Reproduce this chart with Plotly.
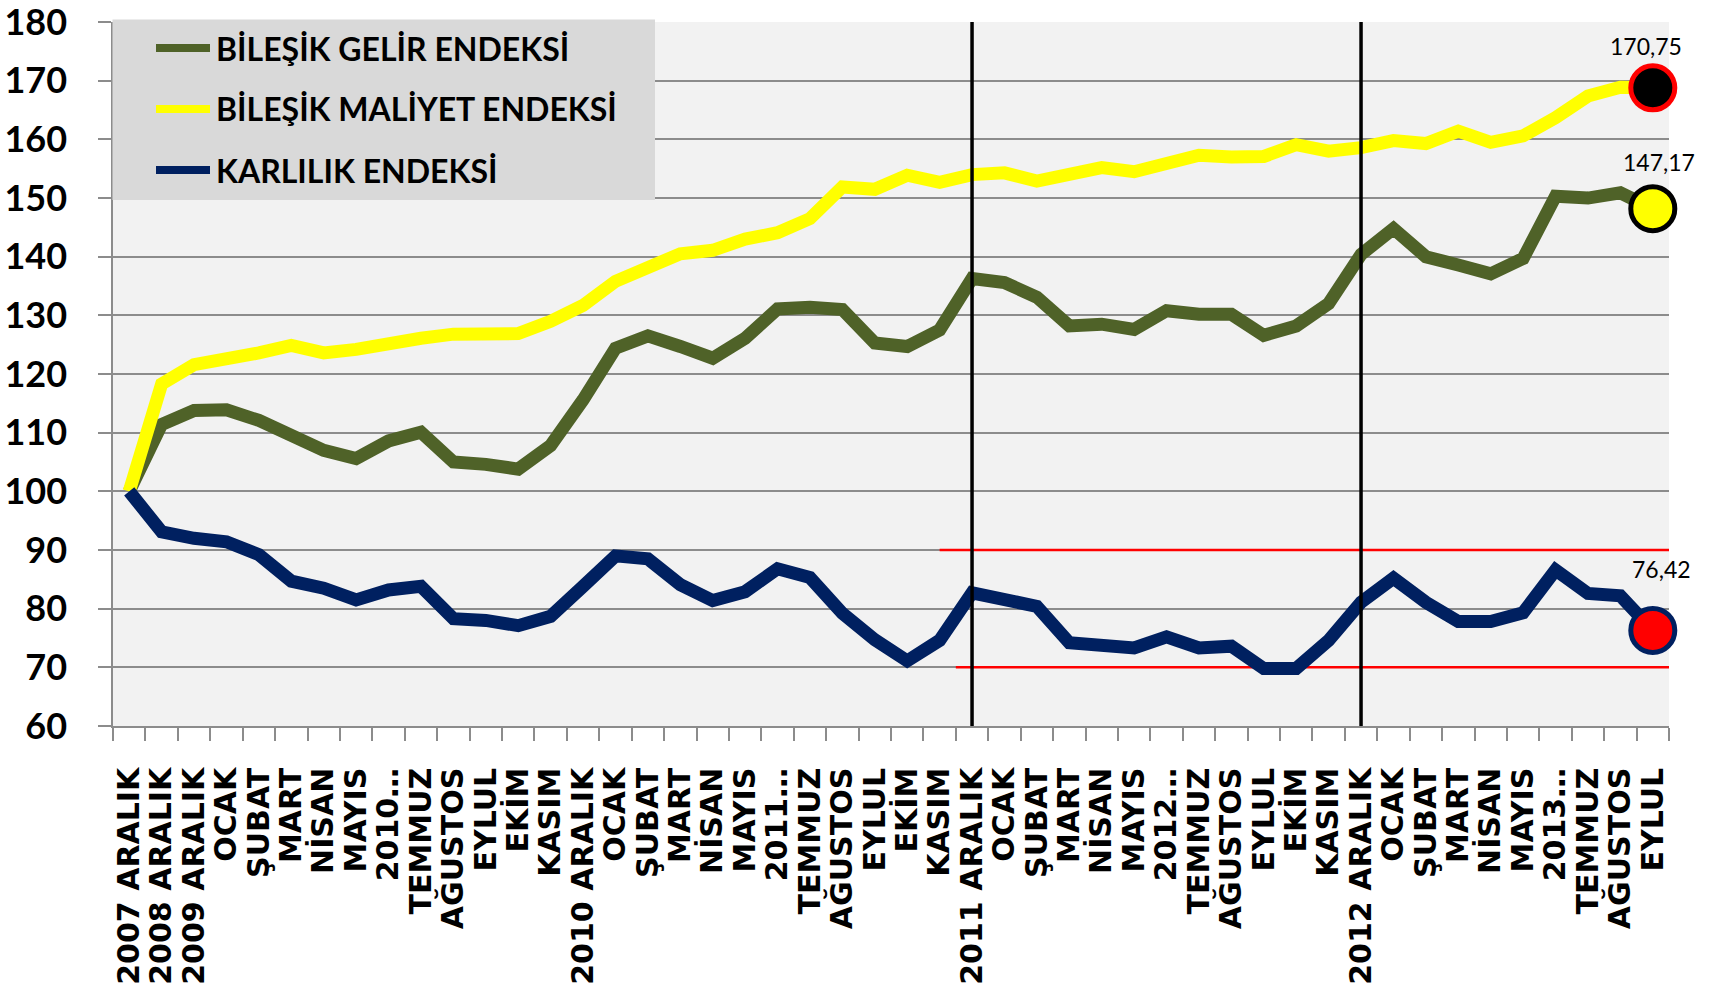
import plotly.graph_objects as go

# ---------------- data ----------------
categories = ["2007 ARALIK", "2008 ARALIK", "2009 ARALIK", "OCAK", "ŞUBAT", "MART", "NİSAN", "MAYIS",
              "2010…", "TEMMUZ", "AĞUSTOS", "EYLUL", "EKİM", "KASIM",
              "2010 ARALIK", "OCAK", "ŞUBAT", "MART", "NİSAN", "MAYIS",
              "2011…", "TEMMUZ", "AĞUSTOS", "EYLUL", "EKİM", "KASIM",
              "2011 ARALIK", "OCAK", "ŞUBAT", "MART", "NİSAN", "MAYIS",
              "2012…", "TEMMUZ", "AĞUSTOS", "EYLUL", "EKİM", "KASIM",
              "2012 ARALIK", "OCAK", "ŞUBAT", "MART", "NİSAN", "MAYIS",
              "2013…", "TEMMUZ", "AĞUSTOS", "EYLUL"]

gelir = [100, 111.4, 113.8, 113.9, 112.1, 109.3, 107.0, 105.6, 108.6, 110.1, 105.0, 104.6, 103.8, 107.8,
         115.6, 124.4, 126.5, 124.7, 122.7, 126.1, 131.1, 131.4, 131.0, 125.3, 124.7, 127.5,
         136.3, 135.6, 133.1, 128.2, 128.5, 127.6, 130.8, 130.2, 130.2, 126.6, 128.2, 132.0,
         140.4, 144.8, 140.0, 138.6, 137.1, 139.7, 150.3, 150.0, 150.9, 148.2]

maliyet = [100, 118.3, 121.6, 122.5, 123.6, 124.9, 123.6, 124.2, 125.4, 126.1, 126.8, 126.8, 126.9, 129.0,
           131.7, 135.8, 138.2, 140.5, 141.1, 143.0, 144.1, 146.5, 151.9, 151.5, 153.9, 152.7,
           154.0, 154.3, 152.9, 154.0, 155.2, 154.5, 155.8, 157.3, 157.0, 157.1, 159.1, 158.0,
           158.6, 159.8, 159.3, 161.4, 159.5, 160.6, 163.7, 167.4, 168.9, 168.8]

karlilik = [100, 93.1, 92.0, 91.4, 89.2, 84.7, 83.5, 81.5, 83.2, 83.8, 78.3, 78.0, 77.1, 78.7,
            83.8, 89.0, 88.5, 84.1, 81.4, 82.9, 86.8, 85.3, 79.2, 74.7, 71.1, 74.6,
            82.7, 81.4, 80.4, 74.2, 73.6, 73.3, 75.2, 73.3, 73.6, 69.8, 69.8, 74.6,
            81.1, 85.2, 81.1, 77.8, 77.8, 79.3, 86.6, 82.6, 82.2, 76.3]

series_names = ["BİLEŞİK GELİR ENDEKSİ", "BİLEŞİK MALİYET ENDEKSİ", "KARLILIK ENDEKSİ"]
end_labels = ["170,75", "147,17", "76,42"]
y_ticks = list(range(60, 190, 10))
ref_levels = [90, 70]          # red reference lines
year_end_cats = [26, 38]       # "2011 ARALIK", "2012 ARALIK"

# ---------------- styles ----------------
GREEN = "#4F6228"
YELLOW = "#FFFF00"
NAVY = "#002060"
GRID = "#8C8C8C"

x = list(range(len(categories)))

fig = go.Figure()
for vals, col in [(gelir, GREEN), (maliyet, YELLOW), (karlilik, NAVY)]:
    fig.add_trace(go.Scatter(x=x, y=vals, mode="lines", showlegend=False,
                             line=dict(color=col, width=13), hoverinfo="skip"))

# end markers
end_marker_styles = [
    (maliyet, "#000000", "#FF0000"),
    (gelir, YELLOW, "#000000"),
    (karlilik, "#FF0000", NAVY),
]
for vals, fill, edge in end_marker_styles:
    fig.add_trace(go.Scatter(x=[x[-1]], y=[vals[-1]], mode="markers", showlegend=False,
                             cliponaxis=False, hoverinfo="skip",
                             marker=dict(size=44, color=fill, line=dict(color=edge, width=5))))

# end labels
label_specs = [(maliyet, end_labels[0], -7, 42), (gelir, end_labels[1], 6, 47), (karlilik, end_labels[2], 9, 61)]
for vals, txt, xs, ys in label_specs:
    fig.add_annotation(x=x[-1], y=vals[-1], text=txt, showarrow=False, xshift=xs, yshift=ys,
                       font=dict(family="Lato", size=23, color="#000000"))

shapes = []
# red reference lines
shapes.append(dict(type="line", xref="x", yref="y", x0=25, x1=len(categories) - 0.5,
                   y0=ref_levels[0], y1=ref_levels[0], line=dict(color="#FF0000", width=2.5), layer="between"))
shapes.append(dict(type="line", xref="x", yref="y", x0=25.5, x1=len(categories) - 0.5,
                   y0=ref_levels[1], y1=ref_levels[1], line=dict(color="#FF0000", width=2.5), layer="between"))
# vertical year lines
for c in year_end_cats:
    shapes.append(dict(type="line", xref="x", yref="paper", x0=c, x1=c, y0=0, y1=1,
                       line=dict(color="#000000", width=3.5), layer="above"))

# manual legend
L, T, W, H = 113, 22, 1556, 704
def px(v):
    return (v - L) / W
def py(v):
    return (T + H - v) / H

shapes.append(dict(type="rect", xref="paper", yref="paper", x0=px(112.5), x1=px(655),
                   y0=py(200), y1=py(19.5), fillcolor="#D9D9D9", line=dict(width=0), layer="above"))
rows = [48, 109, 170]
for name, col, ry in zip(series_names, [GREEN, YELLOW, NAVY], rows):
    shapes.append(dict(type="line", xref="paper", yref="paper", x0=px(156), x1=px(210),
                       y0=py(ry), y1=py(ry), line=dict(color=col, width=8), layer="above"))
    fig.add_annotation(xref="paper", yref="paper", x=px(214), y=py(ry), text=name,
                       showarrow=False, xanchor="left", yanchor="middle",
                       font=dict(family="Lato", size=32, color="#000000", weight="bold"))

fig.update_layout(
    width=1711, height=996,
    margin=dict(l=L, r=1711 - L - W, t=T, b=996 - T - H, autoexpand=False),
    paper_bgcolor="#FFFFFF",
    plot_bgcolor="#F2F2F2",
    shapes=shapes,
    showlegend=False,
    xaxis=dict(
        range=[-0.5, len(categories) - 0.5],
        tickmode="array", tickvals=x, ticktext=categories,
        tickangle=-90, ticks="", showgrid=False, zeroline=False,
        showline=True, linecolor=GRID, linewidth=1.5,
        ticklabelstandoff=28,
        tickfont=dict(family="DejaVu Sans", size=30, color="#000000", weight="bold"),
        minor=dict(tickmode="array", tickvals=[i - 0.5 for i in range(len(categories) + 1)],
                   ticks="outside", ticklen=13, tickcolor=GRID, tickwidth=1.5, showgrid=False),
    ),
    yaxis=dict(
        range=[60, 180.02], tickmode="array", tickvals=y_ticks,
        ticks="outside", ticklen=13, tickcolor=GRID, tickwidth=1.5,
        showgrid=True, gridcolor=GRID, gridwidth=1.5, zeroline=False,
        showline=True, linecolor=GRID, linewidth=1.5,
        ticklabelstandoff=24, ticklabeloverflow="allow",
        tickfont=dict(family="Lato", size=36, color="#000000", weight="bold"),
    ),
)

fig.write_html("out.html", config={"displayModeBar": False},
               post_script="document.body.style.margin='0';document.body.style.overflow='hidden';")
